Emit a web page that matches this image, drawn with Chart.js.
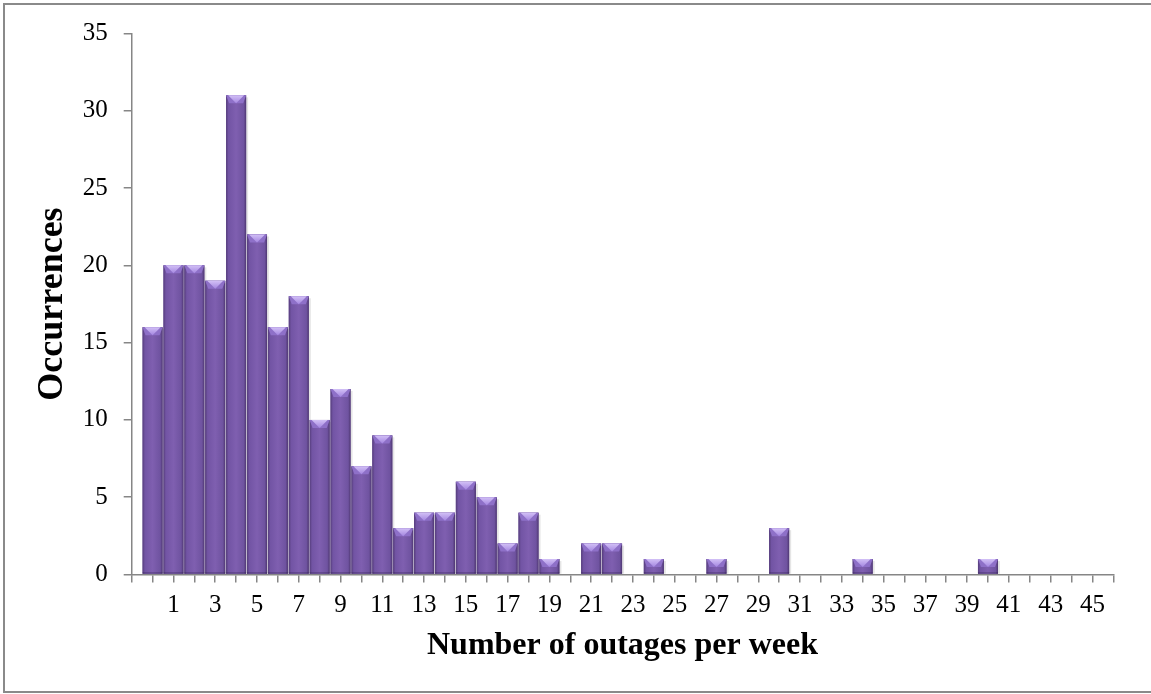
<!DOCTYPE html>
<html>
<head>
<meta charset="utf-8">
<script src="https://cdn.jsdelivr.net/npm/chart.js@4.4.0/dist/chart.umd.min.js"></script>
<style>
  html, body { margin: 0; padding: 0; background: #fff; overflow: hidden; }
  #wrap { position: relative; width: 1151px; height: 694px; }
  #frame { position: absolute; left: 3px; top: 3px; width: 1160px; height: 686px; border: 2px solid #8a8a8a; pointer-events: none; }
</style>
</head>
<body>
<div id="wrap">
  <canvas id="chart" width="1151" height="694"></canvas>
  <div id="frame"></div>
</div>
<script>
// outages per week (bin) and how many weeks had that count
const outageCounts = [0, 1, 2, 3, 4, 5, 6, 7, 8, 9, 10, 11, 12, 13, 14, 15, 16, 17, 18, 19, 20, 21, 22, 23,
    24, 25, 26, 27, 28, 29, 30, 31, 32, 33, 34, 35, 36, 37, 38, 39, 40, 41, 42, 43, 44, 45];
const occurrences = [16, 20, 20, 19, 31, 22, 16, 18, 10, 12, 7, 9, 3, 4, 4, 6, 5, 2, 4, 1, 0, 2, 2, 0,
    1, 0, 0, 1, 0, 0, 3, 0, 0, 0, 1, 0, 0, 0, 0, 0, 1, 0, 0, 0, 0, 0];
const yTicks = [0, 5, 10, 15, 20, 25, 30, 35];

const AXIS_GRAY = '#868686';
const FONT = "'Liberation Serif', 'Times New Roman', serif";

// draws the bevelled purple look over each bar
const bevelBars = {
    id: 'bevelBars',
    afterDatasetsDraw(chart) {
        const ctx = chart.ctx;
        const meta = chart.getDatasetMeta(0);
        meta.data.forEach(bar => {
            const { x, y, base, width } = bar.getProps(['x', 'y', 'base', 'width'], true);
            const h = base - y;
            if (h < 1) return;
            const left = x - width / 2;
            const right = x + width / 2;

            ctx.save();
            // soft shadow to the right
            ctx.fillStyle = 'rgba(0,0,0,0.10)';
            ctx.fillRect(right, y + 2, 2, h - 2);

            const g = ctx.createLinearGradient(left, 0, right, 0);
            g.addColorStop(0, '#553d7b');
            g.addColorStop(0.12, '#7254a4');
            g.addColorStop(0.5, '#7f5fb0');
            g.addColorStop(0.88, '#6f53a0');
            g.addColorStop(1, '#4e3771');
            ctx.fillStyle = g;
            ctx.fillRect(left, y, width, h);

            // top bevel
            const b = Math.min(8, h);
            ctx.fillStyle = '#8e70c8';
            ctx.beginPath();
            ctx.moveTo(left, y);
            ctx.lineTo(right, y);
            ctx.lineTo(right - 3, y + b);
            ctx.lineTo(left + 3, y + b);
            ctx.closePath();
            ctx.fill();

            const tg = ctx.createLinearGradient(0, y, 0, y + b);
            tg.addColorStop(0, '#d2c0f6');
            tg.addColorStop(1, '#a486e0');
            ctx.fillStyle = tg;
            ctx.beginPath();
            ctx.moveTo(left + 2, y);
            ctx.lineTo(right - 2, y);
            ctx.lineTo(x, y + b);
            ctx.closePath();
            ctx.fill();

            // dark bottom edge
            ctx.fillStyle = 'rgba(40,25,70,0.35)';
            ctx.fillRect(left, base - 1.5, width, 1.5);
            ctx.restore();
        });
    }
};

new Chart(document.getElementById('chart'), {
    type: 'bar',
    data: {
        datasets: [{
            label: 'Occurrences',
            data: outageCounts.map((c, i) => ({ x: c, y: occurrences[i] })),
            backgroundColor: '#7659a6',
            borderWidth: 0,
            categoryPercentage: 1,
            barPercentage: 0.96
        }]
    },
    options: {
        responsive: false,
        animation: false,
        events: [],
        layout: { padding: { left: 0, right: 37.7, top: 33.5, bottom: 0 } },
        plugins: {
            legend: { display: false },
            tooltip: { enabled: false }
        },
        scales: {
            x: {
                type: 'linear',
                min: -1,
                max: 46,
                offset: false,
                afterFit(scale) { scale.height = 119.5; },
                afterBuildTicks(scale) {
                    const t = [];
                    for (let v = -1; v <= 46; v++) t.push({ value: v });
                    scale.ticks = t;
                },
                ticks: {
                    autoSkip: false,
                    maxRotation: 0,
                    padding: 8,
                    color: '#000',
                    font: { family: FONT, size: 25 },
                    callback: v => (v >= 1 && v % 2 === 1) ? String(v) : ''
                },
                grid: { drawOnChartArea: false, offset: false, tickLength: 8, color: AXIS_GRAY, lineWidth: 1.5 },
                border: { color: AXIS_GRAY, width: 1.5 },
                title: {
                    display: true,
                    text: 'Number of outages per week',
                    color: '#000',
                    font: { family: FONT, size: 32, weight: 'bold' },
                    padding: { top: 0, bottom: 29 }
                }
            },
            y: {
                min: 0,
                max: 35,
                afterFit(scale) { scale.width = 131.7; },
                afterBuildTicks(scale) { scale.ticks = yTicks.map(v => ({ value: v })); },
                ticks: {
                    padding: 16,
                    color: '#000',
                    font: { family: FONT, size: 25 }
                },
                grid: { drawOnChartArea: false, tickLength: 8, color: AXIS_GRAY, lineWidth: 1.5 },
                border: { color: AXIS_GRAY, width: 1.5 },
                title: {
                    display: true,
                    text: 'Occurrences',
                    color: '#000',
                    font: { family: FONT, size: 36, weight: 'bold' },
                    padding: { top: 31, bottom: 0 }
                }
            }
        }
    },
    plugins: [bevelBars]
});
</script>
</body>
</html>
